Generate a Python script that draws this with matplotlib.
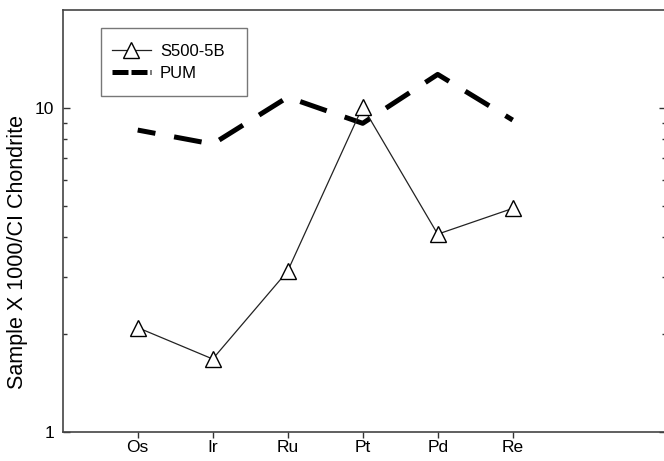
import matplotlib
matplotlib.use("Agg")
import matplotlib.pyplot as plt
from matplotlib import font_manager
from matplotlib.patches import Rectangle
from matplotlib.ticker import NullFormatter, FixedLocator

plt.rcParams['font.family'] = ['Liberation Sans', 'DejaVu Sans']

available = {f.name for f in font_manager.fontManager.ttflist}
narrow = 'Liberation Sans Narrow' if 'Liberation Sans Narrow' in available else 'Liberation Sans'
tick_size = 14 if narrow == 'Liberation Sans Narrow' else 12.5

elements = ["Os", "Ir", "Ru", "Pt", "Pd", "Re"]
s500_5b = [2.1, 1.68, 3.14, 10.1, 4.08, 4.9]
pum = [8.55, 7.74, 10.8, 8.97, 12.7, 9.18]

W, H = 664, 461
fig = plt.figure(figsize=(W / 100, H / 100), dpi=100)
left, right, top, bottom = 62.7, 665.5, 10.5, 432.0
ax = fig.add_axes([left / W, 1 - bottom / H, (right - left) / W, (bottom - top) / H])


def fig_xy(px, py):
    """Pixel position (from top-left) to figure fraction."""
    return px / W, 1 - py / H


x = list(range(1, len(elements) + 1))
ax.plot(x, pum, color='black', lw=3.6, linestyle=(2, (5.6, 3.8)),
        dash_capstyle='butt', label='PUM', zorder=2)
ax.plot(x, s500_5b, color='#222222', lw=0.9, marker='^', ms=11,
        mfc='white', mec='black', mew=1.0, label='S500-5B', zorder=3)

ax.set_yscale('log')
ax.set_ylim(1, 20)
ax.set_xlim(0, (right - left) / 75.0)
ax.set_xticks(x)
ax.set_xticklabels(elements)
ax.yaxis.set_major_locator(FixedLocator([1, 10]))
ax.yaxis.set_major_formatter(plt.FuncFormatter(lambda v, p: f"{v:g}"))
ax.yaxis.set_minor_locator(FixedLocator([2, 3, 4, 5, 6, 7, 8, 9]))
ax.yaxis.set_minor_formatter(NullFormatter())

ax.tick_params(axis='y', which='both', direction='in', right=True, left=True,
               colors='#333333', labelcolor='black', pad=6)
ax.tick_params(axis='y', which='major', length=5, width=1)
ax.tick_params(axis='y', which='minor', length=3, width=1)
ax.tick_params(axis='x', which='major', direction='out', length=4, width=1,
               pad=2, colors='#333333', labelcolor='black')
for lab in ax.get_xticklabels() + ax.get_yticklabels():
    lab.set_fontfamily([narrow, 'DejaVu Sans'])
    lab.set_fontsize(tick_size)

for s in ax.spines.values():
    s.set_color('#444444')
    s.set_linewidth(1.2)

# y label, slightly below the vertical centre of the axes
ax.set_ylabel('Sample X 1000/CI Chondrite', fontsize=15.5)
ax.yaxis.set_label_coords(-(left - 28) / (right - left), (bottom - 252) / (bottom - top))

# legend: a fixed white box with the entries laid out inside it
bx0, by0, bx1, by1 = 100.7, 28.3, 246.7, 96.0
fx0, fy1 = fig_xy(bx0, by1)
frame = Rectangle((fx0, fy1), (bx1 - bx0) / W, (by1 - by0) / H, transform=fig.transFigure,
                  facecolor='white', edgecolor='#777777', lw=1.0, zorder=4)
fig.patches.append(frame)

handles, labels = ax.get_legend_handles_labels()
leg = fig.legend(handles[::-1], labels[::-1], loc='upper left',
                 bbox_to_anchor=fig_xy(111.7, 44.0), bbox_transform=fig.transFigure,
                 frameon=False, fontsize=12, handlelength=2.35,
                 borderpad=0, labelspacing=0.42, handletextpad=0.55, borderaxespad=0)
leg.set_zorder(5)
for line in leg.get_lines():
    if line.get_label() == 'PUM':
        line.set_linestyle((0, (3.2, 0.6)))
    else:
        line.set_markersize(11)

fig.savefig('out.png', dpi=100)
